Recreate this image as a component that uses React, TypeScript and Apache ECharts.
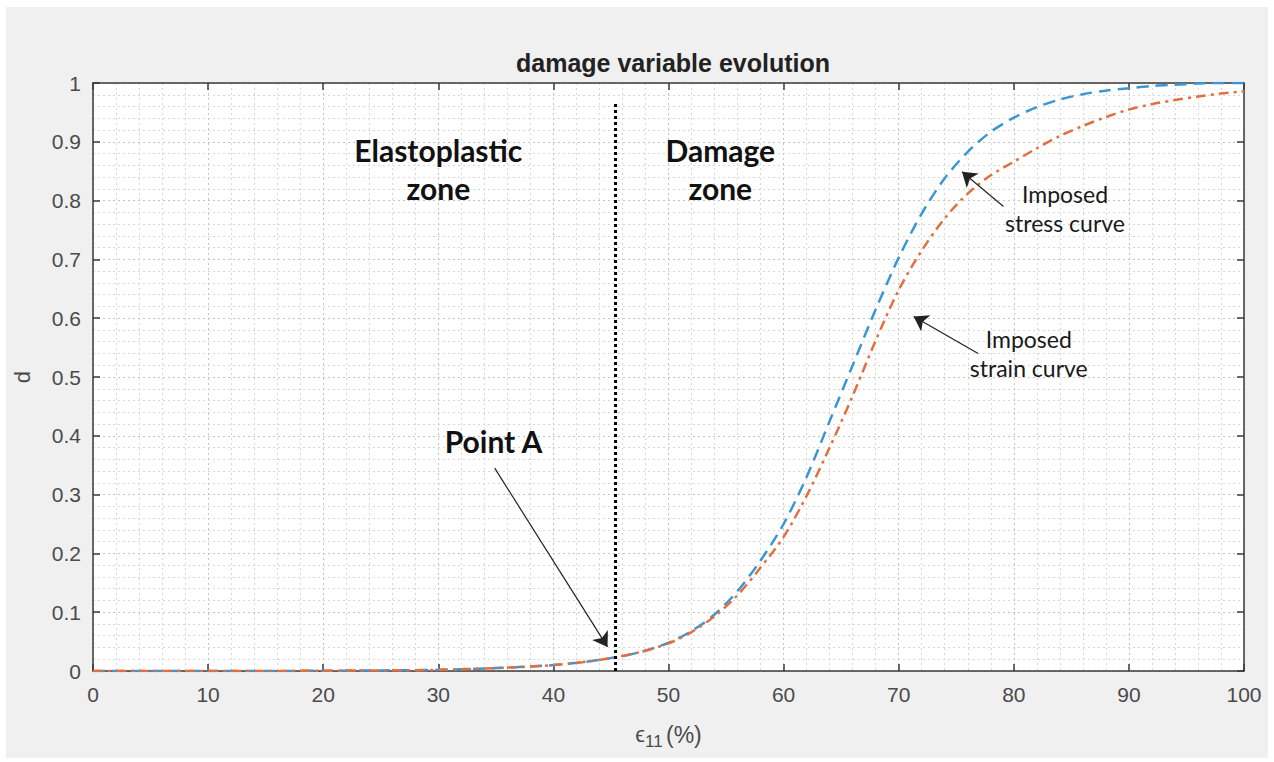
import React, { useEffect, useRef } from 'react';
import * as echarts from 'echarts';

// strain epsilon_11 (%)
const strainPct = [0, 5, 10, 15, 20, 25, 30, 35, 40, 42.5, 45, 47.5, 50, 52, 54, 56, 58, 60, 62, 64, 66, 68, 70, 72, 74, 76, 78, 80, 82, 84, 86, 88, 90, 92, 94, 96, 98, 100];
// Imposed stress curve (blue dashed)
const stressCurve = [0, 0, 0, 0, 0.0005, 0.001, 0.002, 0.005, 0.010, 0.015, 0.022, 0.032, 0.048, 0.068, 0.096, 0.136, 0.188, 0.25, 0.33, 0.425, 0.52, 0.615, 0.703, 0.778, 0.838, 0.883, 0.917, 0.941, 0.959, 0.972, 0.981, 0.987, 0.991, 0.995, 0.997, 0.999, 1.0, 1.0];
// Imposed strain curve (orange dash-dot)
const strainCurve = [0, 0, 0, 0, 0.0005, 0.001, 0.002, 0.005, 0.010, 0.015, 0.022, 0.032, 0.047, 0.066, 0.093, 0.129, 0.176, 0.228, 0.298, 0.38, 0.468, 0.562, 0.648, 0.715, 0.77, 0.812, 0.843, 0.866, 0.889, 0.91, 0.927, 0.942, 0.955, 0.964, 0.971, 0.977, 0.982, 0.986];

// boundary between zones
const boundaryX = 45.4;
const boundaryTop = 0.968;

// arrows: [fromX, fromY, toX, toY]
const arrows = [
  [79.1, 0.79, 75.5, 0.849],
  [76.9, 0.54, 71.3, 0.603],
  [34.9, 0.345, 44.7, 0.041],
];

// annotations: [x, y, text, bold]
const notes: [number, number, string, boolean][] = [
  [30.0, 0.854, 'Elastoplastic\nzone', true],
  [54.5, 0.854, 'Damage\nzone', true],
  [34.8, 0.391, 'Point A', true],
  [84.45, 0.786, 'Imposed\nstress curve', false],
  [81.3, 0.54, 'Imposed\nstrain curve', false],
];

const xTicks = { min: 0, max: 100, interval: 10 };
const yTicks = { min: 0, max: 1, interval: 0.1 };

export default function App() {
  const ref = useRef<HTMLDivElement>(null);
  useEffect(() => {
    if (!ref.current) return;
    const chart = echarts.init(ref.current, undefined, { renderer: 'svg' });
    const axisColor = '#3a3a3a';
    const labelColor = '#4a4a4a';
    const font = 'Liberation Sans, Arial, sans-serif';
    const baseX = {
      type: 'value' as const,
      ...xTicks,
      axisLine: { show: true, onZero: false, lineStyle: { color: axisColor, width: 1.5 } },
      axisTick: { show: true, inside: true, length: 7, lineStyle: { color: axisColor, width: 1.5 } },
    };
    const baseY = {
      type: 'value' as const,
      ...yTicks,
      axisLine: { show: true, onZero: false, lineStyle: { color: axisColor, width: 1.5 } },
      axisTick: { show: true, inside: true, length: 7, lineStyle: { color: axisColor, width: 1.5 } },
    };
    const option: any = {
      animation: false,
      backgroundColor: 'transparent',
      title: {
        text: 'damage variable evolution',
        left: 668,
        top: 45,
        textAlign: 'center',
        textStyle: { fontFamily: font, fontWeight: 'bold', fontSize: 25, color: '#222' },
      },
      grid: { left: 93, top: 83, right: 30, bottom: 91, show: true, backgroundColor: '#ffffff', borderWidth: 0 },
      xAxis: [
        {
          ...baseX,
          position: 'bottom',
          axisLabel: { fontSize: 21, color: labelColor, margin: 13, fontFamily: font },
          splitLine: { show: true, lineStyle: { color: '#c4c4c4', type: [2, 3], width: 1 } },
          minorTick: { show: false, splitNumber: 5 },
          minorSplitLine: { show: true, lineStyle: { color: '#d8d8d8', type: [2, 3], width: 1 } },
          name: '{e|ϵ}{s|11} {p|(%)}',
          nameLocation: 'middle',
          nameGap: 48,
          nameTextStyle: {
            color: labelColor,
            fontFamily: font,
            rich: {
              e: { fontSize: 22, fontFamily: font, color: labelColor },
              s: { fontSize: 17, fontFamily: font, color: labelColor, padding: [14, 0, 0, 0] },
              p: { fontSize: 23, fontFamily: font, color: labelColor },
            },
          },
        },
        { ...baseX, position: 'top', axisLabel: { show: false }, splitLine: { show: false } },
      ],
      yAxis: [
        {
          ...baseY,
          position: 'left',
          axisLabel: { fontSize: 21, color: labelColor, margin: 12, fontFamily: font },
          splitLine: { show: true, lineStyle: { color: '#c4c4c4', type: [2, 3], width: 1 } },
          minorTick: { show: false, splitNumber: 5 },
          minorSplitLine: { show: true, lineStyle: { color: '#d8d8d8', type: [2, 3], width: 1 } },
          name: 'd',
          nameLocation: 'middle',
          nameGap: 60,
          nameRotate: 90,
          nameTextStyle: { fontSize: 22, color: labelColor, fontFamily: font },
        },
        { ...baseY, position: 'right', axisLabel: { show: false }, splitLine: { show: false } },
      ],
      series: [
        {
          type: 'line',
          name: 'Imposed stress curve',
          data: strainPct.map((x, i) => [x, stressCurve[i]]),
          showSymbol: false,
          smooth: 0.3,
          lineStyle: { color: '#3b97d3', width: 2.5, type: [12, 7] },
          z: 3,
        },
        {
          type: 'line',
          name: 'Imposed strain curve',
          data: strainPct.map((x, i) => [x, strainCurve[i]]),
          showSymbol: false,
          smooth: 0.3,
          lineStyle: { color: '#e2703f', width: 2.5, type: [10, 5, 3, 5] },
          z: 4,
        },
        {
          type: 'line',
          name: 'boundary',
          data: [[boundaryX, 0], [boundaryX, boundaryTop]],
          showSymbol: false,
          lineStyle: { color: '#000', width: 3, type: [3, 3] },
          z: 5,
          markLine: {
            silent: true,
            symbol: ['none', 'arrow'],
            symbolSize: 14,
            label: { show: false },
            lineStyle: { color: '#222', width: 1.2, type: 'solid' },
            data: arrows.map((a) => [{ coord: [a[0], a[1]] }, { coord: [a[2], a[3]] }]),
          },
        },
      ],
    };
    chart.setOption(option);
    const graphic = notes.map(([x, y, text, bold]) => {
      const [px, py] = chart.convertToPixel({ gridIndex: 0 } as any, [x, y]) as number[];
      return {
        type: 'text',
        x: px,
        y: py,
        z: 10,
        style: {
          text,
          fill: bold ? '#111' : '#1a1a1a',
          fontFamily: 'Lato, Open Sans, sans-serif',
          fontWeight: bold ? 'bold' : 'normal',
          fontSize: bold ? 30 : 23,
          lineHeight: bold ? 38 : 29,
          align: 'center',
          verticalAlign: 'middle',
        },
      };
    });
    chart.setOption({ graphic });
    return () => chart.dispose();
  }, []);
  return (
    <div style={{ position: 'fixed', left: 0, top: 0, width: 1274, height: 762, background: '#ffffff' }}>
      <div style={{ position: 'absolute', left: 6, top: 7, width: 1262, height: 751, background: '#f0f0f0' }} />
      <div ref={ref} style={{ position: 'absolute', left: 0, top: 0, width: 1274, height: 762 }} />
    </div>
  );
}
